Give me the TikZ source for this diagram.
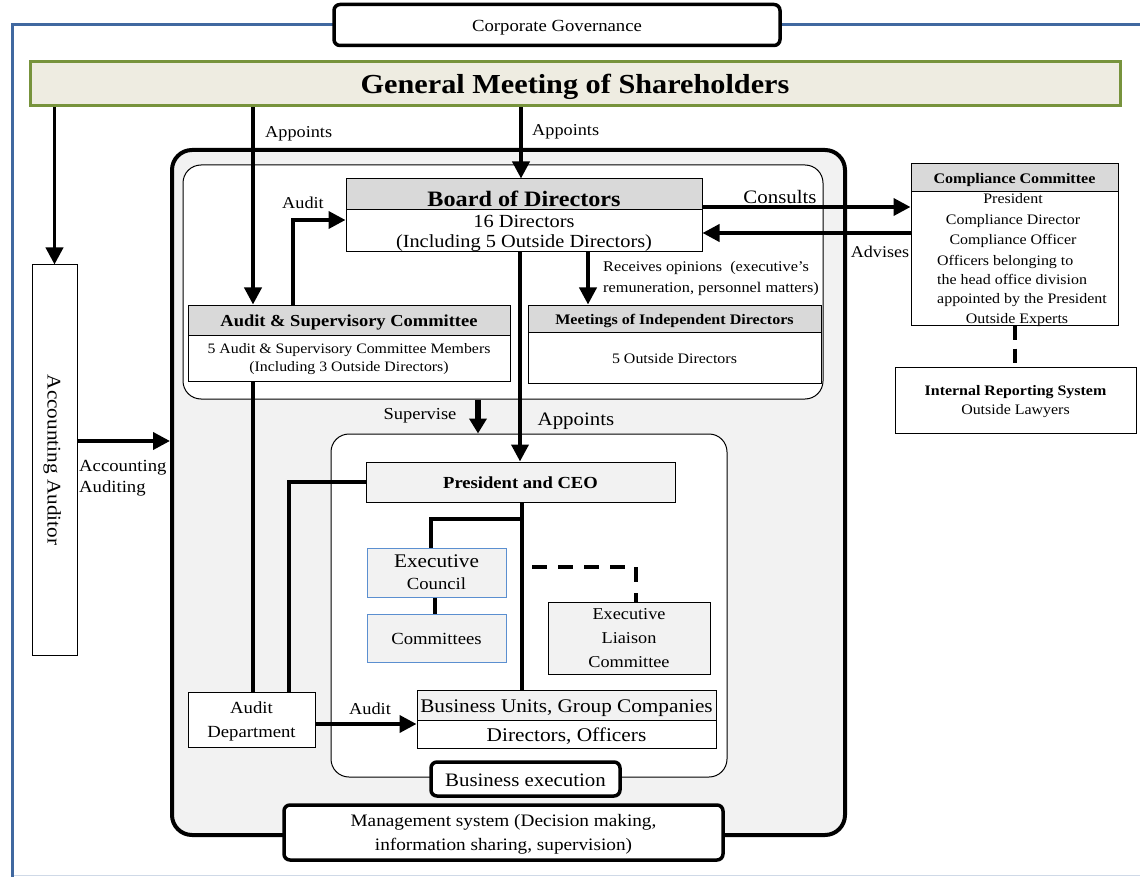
\documentclass[tikz,border=0pt]{standalone}
\usepackage{fontspec}
\setmainfont{Liberation Serif}[FakeStretch=1.1]
\usetikzlibrary{arrows.meta}
\definecolor{frameblue}{RGB}{64,104,160}
\definecolor{gmgreen}{RGB}{119,147,60}
\definecolor{gmfill}{RGB}{238,236,225}
\definecolor{hdrgray}{RGB}{217,217,217}
\definecolor{panelgray}{RGB}{242,242,242}
\definecolor{lightblue}{RGB}{91,143,208}
\newcommand{\fsz}[2]{\fontsize{#1}{#2}\selectfont}
\tikzset{
  box/.style={draw, line width=1pt, inner sep=0pt, align=center, fill=white, text depth=0pt},
  hdr/.style={box, fill=hdrgray},
  one/.style={text height=#1},
  panel/.style={draw, fill=white, rounded corners=18pt, line width=1pt, inner sep=0pt},
  tag/.style={draw, line width=3.5pt, rounded corners=6pt, fill=white, inner sep=0pt, align=center, text depth=0pt},
  conn/.style={line width=3.8pt},
  arr/.style={conn, -{Triangle[length=17pt,width=17pt]}},
  dashconn/.style={line width=3.8pt, dash pattern=on 14pt off 9pt},
  lbl/.style={inner sep=0pt, align=center, text depth=0pt},
}
\begin{document}
\begin{tikzpicture}[x=1pt,y=-1pt]
\useasboundingbox (0,0) rectangle (1140,877);
% frame
\draw[line width=3pt, frameblue] (12,877) -- (12,25) -- (1140,25);
\draw[line width=1pt, frameblue!25] (14,875) -- (1140,875);
\node[tag, one=12.7pt, minimum width=446pt, minimum height=41pt, font=\fsz{17}{20}] (cg) at (557,25) {Corporate Governance};
% general meeting
\node[box, one=19.5pt, line width=3pt, draw=gmgreen, fill=gmfill, minimum width=1090pt, minimum height=44pt, font=\fsz{27.5}{30}\bfseries] (gm) at (575,84) {General Meeting of Shareholders};
% accounting auditor
\node[box, minimum width=45pt, minimum height=390pt] (acc) at (54.5,460) {};
\node[lbl, one=14pt, rotate=-90, font=\fsz{19.3}{22}] (acct) at (acc.center) {Accounting Auditor};
% management system panel
\node[draw, line width=4pt, fill=panelgray, rounded corners=20pt, minimum width=673pt, minimum height=685pt, inner sep=0pt] (mgmt) at (508.5,492.5) {};
\node[panel, minimum width=640pt, minimum height=234pt] (gov) at (503,282) {};
\node[panel, minimum width=396pt, minimum height=343pt] (be) at (529,605.5) {};
% board of directors
\node[hdr, one=23.5pt, minimum width=356pt, minimum height=31pt, font=\fsz{22}{24}\bfseries] (bodh) at (524,194.5) {Board of Directors};
\node[box, minimum width=356pt, minimum height=42pt, font=\fsz{18.5}{20}] (bodb) at (524,231) {16 Directors\\(Including 5 Outside Directors)};
% audit & supervisory committee
\node[hdr, one=12.8pt, minimum width=322pt, minimum height=30pt, font=\fsz{16.8}{20}\bfseries] (ash) at (349,320) {Audit \& Supervisory Committee};
\node[box, minimum width=322pt, minimum height=46pt, font=\fsz{14.4}{18}] (asb) at (349,358) {5 Audit \& Supervisory Committee Members\\(Including 3 Outside Directors)};
% meetings of independent directors
\node[hdr, one=11pt, minimum width=293pt, minimum height=27pt, font=\fsz{14.6}{17}\bfseries] (midh) at (674.5,318.5) {Meetings of Independent Directors};
\node[box, one=11pt, minimum width=293pt, minimum height=51pt, font=\fsz{14.5}{17}] (midb) at (674.5,357.5) {5 Outside Directors};
% compliance committee
\node[hdr, one=11pt, minimum width=207pt, minimum height=28pt, font=\fsz{14.6}{17}\bfseries] (cch) at (1014.5,178) {Compliance Committee};
\node[box, minimum width=207pt, minimum height=133pt] (ccb) at (1014.5,258.5) {};
\node[lbl, one=11pt, font=\fsz{14.5}{17}] (cc1) at (1013,198) {President};
\node[lbl, one=11pt, font=\fsz{14.5}{17}] (cc2) at (1013,219) {Compliance Director};
\node[lbl, one=11pt, font=\fsz{14.5}{17}] (cc3) at (1013,239) {Compliance Officer};
\node[lbl, anchor=west, align=left, font=\fsz{14.5}{19}] (cc4) at (937,279) {Officers belonging to\\the head office division\\appointed by the President};
\node[lbl, one=11pt, font=\fsz{14.5}{17}] (cc5) at (1017,318) {Outside Experts};
% internal reporting system
\node[box, minimum width=241pt, minimum height=66pt, font=\fsz{14.5}{19}] (irs) at (1015.5,400) {\textbf{Internal Reporting System}\\Outside Lawyers};
% business execution
\node[box, one=12.8pt, fill=panelgray, minimum width=309pt, minimum height=40pt, font=\fsz{16.9}{20}\bfseries] (pres) at (520.5,482) {President and CEO};
\node[box, fill=panelgray, draw=lightblue, minimum width=139pt, minimum height=49pt, font=\fsz{19.3}{22}] (ec) at (436.5,572.5) {Executive\\\fsz{17}{20}Council};
\node[box, one=12.8pt, fill=panelgray, draw=lightblue, minimum width=139pt, minimum height=48pt, font=\fsz{17}{20}] (com) at (436.5,638) {Committees};
\node[box, fill=panelgray, minimum width=162pt, minimum height=72pt, font=\fsz{16.6}{24}] (el) at (629,638) {Executive\\Liaison\\Committee};
\node[box, one=14.5pt, fill=panelgray, minimum width=299pt, minimum height=30pt, font=\fsz{19.3}{22}] (buh) at (566.5,705) {Business Units, Group Companies};
\node[box, one=14.5pt, minimum width=299pt, minimum height=28pt, font=\fsz{19.4}{22}] (bub) at (566.5,734) {Directors, Officers};
\node[box, minimum width=127pt, minimum height=55pt, font=\fsz{17}{24}] (ad) at (251.5,719.5) {Audit\\Department};
\node[tag, one=14.3pt, minimum width=189pt, minimum height=34pt, font=\fsz{19}{22}] (bel) at (525.5,779) {Business execution};
\node[tag, minimum width=439pt, minimum height=55pt, font=\fsz{17.5}{24}] (msl) at (503.5,832.5) {Management system (Decision making,\\information sharing, supervision)};
% helper coordinates
\coordinate (xA) at (253,0);
\coordinate (xB) at (521,0);
\coordinate (pAud) at (293,220);
\coordinate (xR) at (588,0);
\coordinate (yC) at (0,207);
\coordinate (yV) at (0,233);
\coordinate (xI) at (1015,0);
\coordinate (xS) at (478,0);
\coordinate (xP) at (520,0);
\coordinate (yAA) at (0,441);
\coordinate (xAD) at (289,0);
\coordinate (xV) at (522,0);
\coordinate (pBr) at (522,519);
\coordinate (xEC) at (431,0);
\coordinate (xEC2) at (435,0);
\coordinate (pDs) at (532,567);
\coordinate (xEL) at (636,0);
\coordinate (yAu) at (0,724);
% connectors
\draw[arr] (gm.south -| acc.north) -- (acc.north);
\draw[arr] (gm.south -| xA) -- (ash.north -| xA);
\draw[arr] (gm.south -| xB) -- (bodh.north -| xB);
\draw[arr] (ash.north -| pAud) |- (bodb.west |- pAud);
\draw[arr] (bodb.south -| xR) -- (midh.north -| xR);
\draw[arr] (bodb.east |- yC) -- (ccb.west |- yC);
\draw[arr] (ccb.west |- yV) -- (bodb.east |- yV);
\draw[dashconn] (ccb.south -| xI) -- (irs.north -| xI);
\draw[conn, line width=6pt, -{Triangle[length=15pt,width=17pt]}] (gov.south -| xS) -- (be.north -| xS);
\draw[arr] (bodb.south -| xP) -- (pres.north -| xP);
\draw[arr] (acc.east |- yAA) -- (mgmt.west |- yAA);
\draw[conn] (asb.south -| xA) -- (ad.north -| xA);
\draw[conn] (pres.west) -| (ad.north -| xAD);
\draw[conn] (pres.south -| xV) -- (buh.north -| xV);
\draw[conn] (pBr) -| (ec.north -| xEC);
\draw[conn] (ec.south -| xEC2) -- (com.north -| xEC2);
\draw[line width=3.8pt, dash pattern=on 15pt off 11pt] (pDs) -| (el.north -| xEL);
\draw[arr] (ad.east |- yAu) -- (buh.west |- yAu);
% labels
\node[lbl, one=12.5pt, anchor=west, font=\fsz{16.6}{20}] (l1) at (265,131) {Appoints};
\node[lbl, one=12.5pt, anchor=west, font=\fsz{16.6}{20}] (l2) at (532,129) {Appoints};
\node[lbl, one=12.5pt, font=\fsz{16.6}{20}] (l3) at (303,202) {Audit};
\node[lbl, one=14.3pt, font=\fsz{19}{22}] (l4) at (780,196) {Consults};
\node[lbl, one=12.3pt, font=\fsz{16.4}{20}] (l5) at (880,251) {Advises};
\node[lbl, anchor=west, align=left, font=\fsz{14.8}{21}] (l6) at (603,276.5) {Receives opinions~ (executive's\\remuneration, personnel matters)};
\node[lbl, one=12.6pt, font=\fsz{16.8}{20}] (l7) at (420,413) {Supervise};
\node[lbl, one=14.3pt, font=\fsz{19}{22}] (l8) at (576,418) {Appoints};
\node[lbl, anchor=west, align=left, font=\fsz{17}{21}] (l9) at (79,476) {Accounting\\Auditing};
\node[lbl, one=12.5pt, font=\fsz{16.7}{20}] (l10) at (370,708) {Audit};
\end{tikzpicture}
\end{document}
